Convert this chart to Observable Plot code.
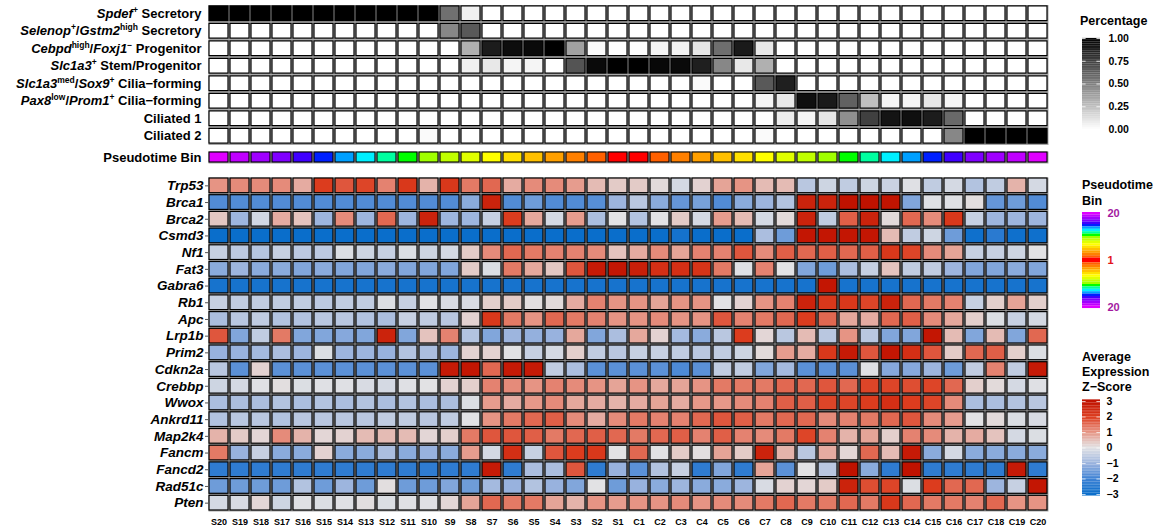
<!DOCTYPE html>
<html><head><meta charset="utf-8">
<script src="https://cdn.jsdelivr.net/npm/d3@7"></script>
<script src="https://cdn.jsdelivr.net/npm/@observablehq/plot@0.6"></script>
<style>
html,body{margin:0;padding:0;background:#fff;}
#root{position:relative;width:1165px;height:531px;overflow:hidden;font-family:'Liberation Sans',Arial,Helvetica,sans-serif;color:#000;}
.box{position:absolute;left:0;}
.ttl{position:absolute;font-weight:bold;font-size:12.5px;white-space:nowrap;}
.genes g[aria-label="y-axis tick label"] text{font-style:italic;}
</style></head><body>
<div id="root"></div>
<script>
// ---------- data ----------
const columns = ["S20","S19","S18","S17","S16","S15","S14","S13","S12","S11","S10","S9","S8","S7","S6","S5","S4","S3","S2","S1","C1","C2","C3","C4","C5","C6","C7","C8","C9","C10","C11","C12","C13","C14","C15","C16","C17","C18","C19","C20"];
const pseudoBins = [20,19,18,17,16,15,14,13,12,11,10,9,8,7,6,5,4,3,2,1,1,2,3,4,5,6,7,8,9,10,11,12,13,14,15,16,17,18,19,20];
const binDomain = [1,2,3,4,5,6,7,8,9,10,11,12,13,14,15,16,17,18,19,20];
const pseudoColors = ["#ff0000","#ff6000","#ff8000","#ffa000","#ffc000","#ffe000","#ffff00","#e0ff00","#c0ff00","#a0ff00","#00ff00","#00ffa0","#00f0ff","#00a0ff","#0020ff","#4000ff","#8000ff","#a000ff","#c000ff","#e000ff"];

const cellTypes = ["Spdef+ Secretory","Selenop+/Gstm2high Secretory","Cebpdhigh/Foxj1− Progenitor","Slc1a3+ Stem/Progenitor","Slc1a3med/Sox9+ Cilia−forming","Pax8low/Prom1+ Cilia−forming","Ciliated 1","Ciliated 2"];
const cellTypeMarkup = ["<i>Spdef</i><sup>+</sup> Secretory","<i>Selenop</i><sup>+</sup>/<i>Gstm2</i><sup>high</sup> Secretory","<i>Cebpd</i><sup>high</sup>/<i>Foxj1</i><sup>−</sup> Progenitor","<i>Slc1a3</i><sup>+</sup> Stem/Progenitor","<i>Slc1a3</i><sup>med</sup>/<i>Sox9</i><sup>+</sup> Cilia−forming","<i>Pax8</i><sup>low</sup>/<i>Prom1</i><sup>+</sup> Cilia−forming","Ciliated 1","Ciliated 2"];

const pctSpdef   = [1,1,1,1,1,1,1,1,1,1,1,0.56,0.06,0,0,0,0,0,0,0, 0,0,0,0,0,0,0,0,0,0,0,0,0,0,0,0,0,0,0,0];
const pctSelenop = [0,0,0,0,0,0,0,0,0,0,0,0.47,0.65,0,0,0,0,0,0,0, 0,0,0,0,0,0,0,0,0,0,0,0,0,0,0,0,0,0,0,0];
const pctCebpd   = [0,0,0,0,0,0,0,0,0,0,0,0,0.31,0.89,0.95,0.96,1,0.37,0.02,0, 0.01,0.04,0.05,0.1,0.57,0.9,0.09,0,0,0,0,0,0,0,0,0,0,0,0,0];
const pctSlc1a3  = [0,0,0,0,0,0,0,0,0,0,0,0,0.06,0.09,0.04,0.04,0,0.67,0.96,1, 1,0.97,0.96,0.88,0.47,0.09,0.31,0,0,0,0,0,0,0,0,0,0,0,0,0];
const pctSox9    = [0,0,0,0,0,0,0,0,0,0,0,0,0,0,0,0,0,0,0,0, 0,0,0,0.02,0,0,0.65,0.88,0,0,0,0,0,0,0,0,0,0,0,0];
const pctPax8    = [0,0,0,0,0,0,0,0,0,0,0,0,0,0,0,0,0,0,0,0, 0,0,0,0,0,0,0.04,0.09,0.94,0.9,0.62,0.25,0.04,0.04,0.1,0.04,0,0,0,0];
const pctCil1    = [0,0,0,0,0,0,0,0,0,0,0,0,0,0,0,0,0,0,0,0, 0,0,0,0,0,0,0,0.07,0.04,0.1,0.44,0.75,0.92,0.94,0.89,0.59,0,0,0,0];
const pctCil2    = [0,0,0,0,0,0,0,0,0,0,0.02,0,0,0,0,0,0,0,0,0, 0,0,0,0,0,0,0.02,0,0,0,0,0,0,0,0,0.47,1,1,1,1];

const genes = ["Trp53","Brca1","Brca2","Csmd3","Nf1","Fat3","Gabra6","Rb1","Apc","Lrp1b","Prim2","Cdkn2a","Crebbp","Wwox","Ankrd11","Map2k4","Fancm","Fancd2","Rad51c","Pten"];
const zTrp53  = [1.0,1.1,1.1,1.1,0.7,2.0,1.7,1.9,1.2,2.1, 0.6,2.1,1.3,1.5,0.7,1.1,1.1,0.9,0.5,0.3, 0.3,0.1,-0.2,0.2,0.8,1.0,0.5,0.5,-0.6,-0.3, -0.5,-0.3,-0.35,-0.05,-0.5,-0.2,-0.7,-0.5,0.6,-0.2];
const zBrca1  = [-1.8,-1.8,-1.8,-1.8,-1.8,-1.8,-1.8,-1.8,-1.8,-1.8, -1.8,-1.8,-1.2,2.6,-1.8,-1.5,-1.8,-1.8,-1.75,-1.0, -0.6,-1.2,-1.6,-1.4,-1.8,-1.2,-1.0,-0.7,2.6,2.6, 3.0,3.0,2.95,-1.3,-0.05,-0.05,0.05,-1.6,-1.5,-1.8];
const zBrca2  = [0.35,-1.0,-0.25,0.7,0.4,-1.0,1.1,-1.0,1.5,-1.0, 2.6,-1.0,-1.0,-0.4,2.0,0.75,-0.2,0.9,-0.8,0.0, -0.7,0.0,0.3,-0.2,0.9,0.5,-0.2,0.1,2.6,-0.5, 1.6,2.6,0.1,1.5,1.1,2.1,-0.4,-1.0,-1.0,-1.0];
const zCsmd3  = [-3,-3,-3,-3,-3,-3,-3,-3,-3,-3, -3,-3,-3,-3,-3,-3,-3,-3,-3,-3, -3,-3,-2.8,-3,-3,-3,-0.8,-1.5,2.9,2.9, 2.9,2.9,0.5,-0.5,-0.3,-1.5,-2.9,-2.4,-2.9,-2.9];
const zNf1    = [-0.4,-0.55,-0.65,-0.4,-0.55,-0.55,-0.1,-0.3,-0.4,-0.1, -0.3,-0.2,0.3,1.1,1.5,1.3,1.2,1.2,1.1,0.4, 0.7,1.1,0.8,1.2,1.2,1.7,1.1,1.6,1.5,1.6, 1.5,1.6,2.1,1.9,1.1,0.8,-0.4,-0.4,-0.3,0.0];
const zFat3   = [-1.2,-1.0,-1.2,-1.2,-1.3,-1.2,-1.3,-1.3,-1.2,-1.3, -1.3,-1.3,0.3,-0.1,1.3,0.75,0.35,1.7,2.8,2.9, 2.7,2.3,2.3,2.2,1.3,-0.05,1.2,0.0,-1.3,-1.5, -0.8,-0.4,0.4,-0.5,-0.5,-1.0,-1.3,-1.3,-1.2,-1.3];
const zGabra6 = [-2.75,-2.75,-2.75,-2.75,-2.75,-2.75,-2.75,-2.75,-2.75,-2.75, -2.75,-2.75,-2.75,-2.75,-2.75,-2.75,-2.75,-2.75,-2.75,-2.75, -2.75,-2.75,-2.75,-2.75,-2.75,-2.75,-2.75,-2.75,-2.75,2.9, -2.75,-2.75,-2.75,-2.75,-2.75,-2.75,-2.75,-2.75,-2.75,-2.75];
const zRb1    = [-0.4,-0.5,-0.5,-0.5,-0.5,-0.55,-0.5,-0.5,-0.1,-0.4, 0.0,-0.15,-0.15,0.25,0.3,0.05,0.1,0.7,1.2,1.0, 1.0,0.8,1.0,1.0,0.0,0.2,1.0,1.2,2.6,2.1, 2.1,1.9,2.6,1.5,1.3,1.2,-0.4,0.25,0.8,0.25];
const zApc    = [-0.8,-0.6,-0.5,-0.7,-0.7,-0.6,-0.6,-0.7,-0.8,-0.4, -0.5,-0.6,0.2,2.1,1.3,1.0,1.5,1.3,1.2,1.0, 1.0,1.1,1.0,1.0,1.7,1.2,1.3,1.5,2.0,1.5, 0.75,0.7,1.5,1.6,1.1,0.75,0.25,-0.1,-0.4,-0.2];
const zLrp1b  = [1.7,-1.3,-0.5,1.3,-1.3,-1.3,-1.25,-1.3,2.6,-1.3, 0.4,1.2,-0.7,-1.3,-1.0,-1.1,-1.05,0.75,-1.3,-0.8, 0.75,0.2,-0.9,-1.2,-0.6,2.0,0.15,-0.6,0.5,-0.6, 1.0,-0.6,-1.3,-1.3,2.9,0.5,-1.3,0.5,-1.3,1.5];
const zPrim2  = [-1.05,-1.05,-0.9,-0.8,-1.0,-0.1,-1.0,-1.0,-1.05,-0.7, -0.8,-1.0,0.2,0.2,0.0,-0.4,-0.2,0.25,-0.5,-0.6, -0.4,-0.4,-0.5,-0.6,-0.5,-0.3,0.1,0.9,0.7,2.1, 2.8,1.7,2.9,2.3,1.7,0.3,1.5,1.6,0.25,-0.1];
const zCdkn2a = [-0.6,-1.7,0.2,-1.7,-1.7,-1.7,-1.7,-1.7,-1.7,-1.7, -1.7,2.8,2.9,1.5,2.8,2.8,-0.5,-0.8,-1.7,-1.7, -1.7,-1.7,-1.85,-1.7,-0.5,-0.5,-1.3,-0.9,-1.7,-1.7, -1.7,-0.05,-1.25,-1.25,-1.0,-1.5,-0.5,1.2,-0.5,2.8];
const zCrebbp = [-0.3,-0.2,-0.05,0.05,-0.1,-0.05,-0.05,-0.15,-0.2,-0.05, 0.0,0.2,0.25,1.2,1.1,1.0,1.2,1.1,1.0,0.8, 1.0,0.75,0.8,1.0,1.3,1.3,1.3,1.5,1.5,1.7, 1.5,1.9,1.9,1.8,1.9,1.5,0.25,0.1,-0.2,-0.05];
const zWwox   = [-0.8,-0.8,-0.8,-0.7,-0.8,-0.7,-0.8,-0.7,-0.8,-0.7, -0.8,-0.8,-0.1,0.9,0.7,0.95,1.1,0.75,0.7,0.6, 0.7,0.8,0.7,0.95,0.95,1.1,1.2,1.6,1.6,1.9, 1.9,2.0,2.3,2.0,1.9,1.1,-0.8,-0.8,-0.7,-0.6];
const zAnkrd11= [-0.7,-0.6,-0.6,-0.7,-0.6,-0.6,-0.6,-0.6,-0.5,-0.5, -0.6,-0.5,0.0,1.0,1.3,1.5,1.6,1.1,0.7,1.1, 1.3,1.2,1.2,1.5,1.7,1.6,1.3,1.5,1.5,1.1, 1.2,1.3,1.5,1.7,1.1,0.9,0.0,0.1,-0.1,-0.15];
const zMap2k4 = [0.6,0.3,0.15,1.1,0.6,0.15,0.2,0.5,0.5,0.5, 0.15,0.25,1.3,1.7,1.7,1.6,1.3,1.5,1.6,1.5, 1.3,1.5,1.6,1.2,1.6,1.2,1.1,1.3,1.9,1.2, 0.6,0.8,0.25,1.2,1.1,0.6,0.7,0.4,-0.2,-0.1];
const zFancm  = [1.3,-1.05,-0.4,-1.2,-1.2,0.2,-1.2,-1.2,-0.8,-1.2, -1.05,-1.2,0.9,-0.2,2.3,-0.4,1.7,2.0,2.1,0.0, 1.5,0.0,0.3,0.05,0.8,0.3,2.6,0.6,-0.6,0.7, 0.15,1.5,0.5,2.8,-1.2,-0.2,-1.2,-1.2,-1.2,-1.2];
const zFancd2 = [-2.3,-2.3,-2.3,-2.3,-2.3,-2.3,-2.3,-2.3,-2.3,-2.3, -2.3,-2.3,-2.3,2.8,-2.3,-0.8,-0.8,1.7,-2.3,-1.05, -1.7,-0.7,-0.4,-2.3,-1.3,-2.3,0.8,-1.7,0.0,-0.6, 3.0,-1.2,-2.3,3.0,-2.3,-2.3,-2.3,-2.3,2.8,-2.3];
const zRad51c = [-1.5,-1.5,-1.5,-1.5,-0.7,-1.5,-1.0,-1.5,0.05,-1.5, -1.5,-1.3,-1.5,-0.9,-1.05,-0.7,-1.05,-1.3,0.0,-1.5, -1.05,-1.2,-1.0,-1.2,-1.2,-1.0,-0.15,0.2,0.15,0.3, 2.6,1.8,1.9,-0.1,2.0,1.5,1.5,-1.0,-0.4,2.9];
const zPten   = [-0.2,-0.15,0.15,-0.3,-0.05,-0.1,-0.05,0.05,-0.1,-0.05, -0.05,0.15,0.8,1.5,1.3,1.3,0.8,0.6,1.0,0.9, 1.0,1.0,1.1,1.0,1.1,1.1,1.3,1.5,1.3,1.3, 1.5,1.3,2.1,1.5,1.3,1.3,1.2,1.5,1.0,1.0];

const pctTicks = [0, 0.25, 0.5, 0.75, 1];
const zTicks = [-3, -2, -1, 0, 1, 2, 3];
const zStops = [-3, -2, -1, 0, 1, 2, 3];
const zColors = ["#0a6ecb","#3f82d4","#9db5de","#e2e2e4","#e69484","#dc3c1e","#c01200"];
const pseudoLegendLabels = [{pos: 0.5, label: "20"}, {pos: 20, label: "1"}, {pos: 39.5, label: "20"}];

// ---------- tables ----------
const pctRows = [pctSpdef, pctSelenop, pctCebpd, pctSlc1a3, pctSox9, pctPax8, pctCil1, pctCil2];
const pctTable = cellTypes.flatMap((t, i) => pctRows[i].map((p, j) => ({type: t, col: columns[j], p})));
const zRows = [zTrp53,zBrca1,zBrca2,zCsmd3,zNf1,zFat3,zGabra6,zRb1,zApc,zLrp1b,zPrim2,zCdkn2a,zCrebbp,zWwox,zAnkrd11,zMap2k4,zFancm,zFancd2,zRad51c,zPten];
const zTable = genes.flatMap((g, i) => zRows[i].map((z, j) => ({gene: g, col: columns[j], z})));
const binTable = pseudoBins.map((b, j) => ({col: columns[j], bin: b, row: "Pseudotime Bin", i: j}));

// ---------- styling ----------
const FONT = "'Liberation Sans', Arial, Helvetica, sans-serif";
const GAP = "#a6a6a6";
const baseStyle = {fontFamily: FONT, background: "transparent", color: "black", overflow: "visible"};
const root = document.getElementById("root");
function place(node, left, top, cls) {
  const d = document.createElement("div");
  d.className = "box" + (cls ? " " + cls : "");
  d.style.left = left + "px"; d.style.top = top + "px";
  d.appendChild(node); root.appendChild(d); return d;
}
function title(lines, left, top, lh) {
  const d = document.createElement("div");
  d.className = "ttl"; d.style.left = left + "px"; d.style.top = top + "px"; d.style.lineHeight = lh + "px";
  d.innerHTML = lines.join("<br>"); root.appendChild(d);
}
function richLabel(textEl, markup) {
  const segs = markup.split(/(<i>.*?<\/i>|<sup>.*?<\/sup>)/).filter(s => s.length);
  textEl.textContent = "";
  textEl.style.whiteSpace = "pre";
  let raised = false;
  for (const s of segs) {
    const t = document.createElementNS("http://www.w3.org/2000/svg", "tspan");
    if (s.startsWith("<sup>")) {
      t.textContent = s.slice(5, -6); t.setAttribute("font-size", "8.5");
      t.setAttribute("dy", raised ? "0" : "-5"); raised = true;
    } else {
      if (s.startsWith("<i>")) { t.textContent = s.slice(3, -4); t.setAttribute("font-style", "italic"); }
      else t.textContent = s;
      if (raised) { t.setAttribute("dy", "5"); raised = false; }
    }
    textEl.appendChild(t);
  }
}

// ---------- cell type heatmap ----------
const plotA = Plot.plot({
  width: 1060, height: 145, marginLeft: 208, marginRight: 12, marginTop: 4.5, marginBottom: 0.5,
  x: {domain: columns, padding: 0, round: false, axis: null},
  y: {domain: cellTypes, padding: 0, round: false, label: null},
  color: {type: "linear", domain: [0, 1], range: ["#ffffff", "#000000"]},
  style: baseStyle,
  marks: [
    Plot.frame({fill: GAP}),
    Plot.cell(pctTable, {x: "col", y: "type", fill: "p", insetLeft: 1, insetRight: 1, insetTop: 1.4, insetBottom: 1.4, stroke: "black", strokeWidth: 1.2}),
    Plot.axisY({tickSize: 0, tickPadding: 7, fontSize: 13, fontWeight: "bold", label: null})
  ]
});
plotA.querySelectorAll('g[aria-label="y-axis tick label"] text').forEach(t => {
  const k = cellTypes.indexOf(t.textContent);
  if (k >= 0) richLabel(t, cellTypeMarkup[k]);
});
place(plotA, 0, 0);

// ---------- pseudotime bar ----------
const plotB = Plot.plot({
  width: 1060, height: 18, marginLeft: 208, marginRight: 12, marginTop: 3, marginBottom: 3,
  x: {domain: columns, padding: 0, round: false, axis: null},
  y: {domain: ["Pseudotime Bin"], padding: 0, round: false, label: null},
  color: {type: "ordinal", domain: binDomain, range: pseudoColors},
  style: baseStyle,
  marks: [
    Plot.frame({fill: GAP}),
    Plot.cell(binTable, {x: "col", y: "row", fill: "bin", inset: 1, stroke: "black", strokeWidth: 1.1}),
    Plot.axisY({tickSize: 0, tickPadding: 7, fontSize: 13, fontWeight: "bold", label: null})
  ]
});
place(plotB, 0, 148);

// ---------- gene heatmap ----------
const plotC = Plot.plot({
  width: 1060, height: 359, marginLeft: 208, marginRight: 12, marginTop: 5, marginBottom: 20,
  x: {domain: columns, padding: 0, round: false, label: null},
  y: {domain: genes, padding: 0, round: false, label: null},
  color: {type: "linear", domain: zStops, range: zColors, interpolate: "rgb", clamp: true},
  style: baseStyle,
  marks: [
    Plot.frame({fill: GAP}),
    Plot.cell(zTable, {x: "col", y: "gene", fill: "z", inset: 1, stroke: "black", strokeWidth: 1.2}),
    Plot.axisX({tickSize: 0, tickPadding: 7, fontSize: 9, fontWeight: "bold", label: null}),
    Plot.axisY({tickSize: 3, tickPadding: 2, fontSize: 13.5, fontWeight: "bold", fontStyle: "italic", stroke: "#555", label: null})
  ]
});
place(plotC, 0, 172, "genes");

// ---------- legends ----------
const pctStep = 0.02;
const pctRamp = d3.range(0, 1, pctStep);
const legPct = Plot.plot({
  width: 100, height: 140, marginLeft: 22, marginRight: 60, marginTop: 38, marginBottom: 11,
  x: {domain: [0, 1], axis: null},
  y: {domain: [0, 1], range: [129, 38], axis: null},
  color: {type: "linear", domain: [0, 1], range: ["#ffffff", "#000000"]},
  style: baseStyle,
  marks: [
    Plot.rect(pctRamp, {x1: 0, x2: 1, y1: d => d, y2: d => d + pctStep + 0.001, fill: d => d + pctStep / 2}),
    Plot.ruleY(pctTicks, {x1: 0, x2: 0.2, stroke: "white", strokeOpacity: 0.8}),
    Plot.ruleY(pctTicks, {x1: 0.8, x2: 1, stroke: "white", strokeOpacity: 0.8}),
    Plot.axisY({anchor: "right", ticks: pctTicks, tickFormat: d3.format(".2f"), tickSize: 0, tickPadding: 8, fontSize: 10.5, fontWeight: "bold", label: null})
  ]
});
place(legPct, 1060, 0);
title(["Percentage"], 1080, 14, 15);

const legBin = Plot.plot({
  width: 100, height: 110, marginLeft: 22, marginRight: 60, marginTop: 7, marginBottom: 7,
  x: {domain: [0, 1], axis: null},
  y: {domain: [0, 40], range: [7, 103], axis: null},
  color: {type: "ordinal", domain: binDomain, range: pseudoColors},
  style: baseStyle,
  marks: [
    Plot.rect(binTable, {x1: 0, x2: 1, y1: "i", y2: d => d.i + 1.02, fill: "bin"}),
    Plot.text(pseudoLegendLabels.filter(d => d.label === "20"), {x: 1, y: "pos", text: "label", dx: 7, textAnchor: "start", fill: "#a3199f", fontWeight: "bold", fontSize: 11}),
    Plot.text(pseudoLegendLabels.filter(d => d.label === "1"), {x: 1, y: "pos", text: "label", dx: 7, textAnchor: "start", fill: "#e3141a", fontWeight: "bold", fontSize: 11})
  ]
});
place(legBin, 1060, 205);
title(["Pseudotime", "Bin"], 1082, 177, 16);

const zStep = 0.1;
const zRamp = d3.range(-3.1, 3.1, zStep);
const legZ = Plot.plot({
  width: 100, height: 115, marginLeft: 22, marginRight: 60, marginTop: 11, marginBottom: 11,
  x: {domain: [0, 1], axis: null},
  y: {domain: [-3, 3], range: [104, 11], axis: null},
  color: {type: "linear", domain: zStops, range: zColors, interpolate: "rgb", clamp: true},
  style: baseStyle,
  marks: [
    Plot.rect(zRamp, {x1: 0, x2: 1, y1: d => d, y2: d => d + zStep + 0.005, fill: d => d + zStep / 2}),
    Plot.ruleY(zTicks, {x1: 0, x2: 0.2, stroke: "white", strokeOpacity: 0.7}),
    Plot.ruleY(zTicks, {x1: 0.8, x2: 1, stroke: "white", strokeOpacity: 0.7}),
    Plot.axisY({anchor: "right", ticks: zTicks, tickFormat: d => d < 0 ? "−" + (-d) : String(d), tickSize: 0, tickPadding: 6, fontSize: 10.5, fontWeight: "bold", label: null})
  ]
});
place(legZ, 1060, 390);
title(["Average", "Expression", "Z−Score"], 1082, 350, 15);
</script>
</body></html>
